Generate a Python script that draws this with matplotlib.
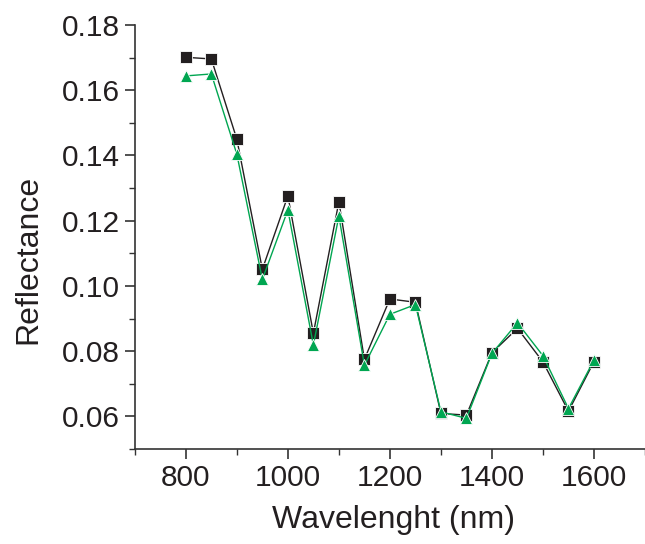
import matplotlib
matplotlib.use("Agg")
import matplotlib.pyplot as plt
from matplotlib.ticker import MultipleLocator

wavelength = [800, 850, 900, 950, 1000, 1050, 1100, 1150, 1200, 1250,
              1300, 1350, 1400, 1450, 1500, 1550, 1600]
series_black = [0.1701, 0.1696, 0.1450, 0.1051, 0.1276, 0.0855, 0.1258, 0.0775,
                0.0960, 0.0950, 0.0609, 0.0604, 0.0795, 0.0870, 0.0767, 0.0616, 0.0768]
series_green = [0.1644, 0.1650, 0.1404, 0.1020, 0.1233, 0.0819, 0.1214, 0.0757,
                0.0913, 0.0943, 0.0614, 0.0594, 0.0793, 0.0887, 0.0786, 0.0624, 0.0773]
xticks = [800, 1000, 1200, 1400, 1600]
yticks = [0.06, 0.08, 0.10, 0.12, 0.14, 0.16, 0.18]

plt.rcParams['font.family'] = ['Liberation Sans', 'DejaVu Sans']

fig = plt.figure(figsize=(6.45, 5.44), dpi=100)
ax = fig.add_axes([0.209, 0.1746, 0.791, 0.7794])

ax.plot(wavelength, series_black, color='#231f20', lw=1.0, marker='s', ms=8,
        mfc='#231f20', mec='white', mew=0.6, zorder=3)
ax.plot(wavelength, series_green, color='#00a651', lw=1.0, marker='^', ms=9,
        mfc='#00a651', mec='white', mew=0.6, zorder=4)

ax.set_xlim(700, 1700)
ax.set_ylim(0.05, 0.18)
ax.set_xticks(xticks)
ax.set_yticks(yticks)
ax.set_yticklabels([f"{v:.2f}" for v in yticks])
ax.xaxis.set_minor_locator(MultipleLocator(100))
ax.yaxis.set_minor_locator(MultipleLocator(0.01))

for s in ['top', 'right']:
    ax.spines[s].set_visible(False)
for s in ['left', 'bottom']:
    ax.spines[s].set_linewidth(1.2)
    ax.spines[s].set_color('#333333')

ax.tick_params(which='major', direction='out', length=7, width=1.2, colors='#333333',
               labelsize=21.5, labelcolor='#231f20', pad=4)
ax.tick_params(which='minor', direction='out', length=4, width=1.0, colors='#333333')

ax.set_xlabel('Wavelenght (nm)', fontsize=23, color='#231f20')
ax.set_ylabel('Reflectance', fontsize=23, color='#231f20')
ax.xaxis.set_label_coords(0.508, -0.133)
ax.yaxis.set_label_coords(-0.18, 0.446)

fig.savefig('out.png', dpi=100)
